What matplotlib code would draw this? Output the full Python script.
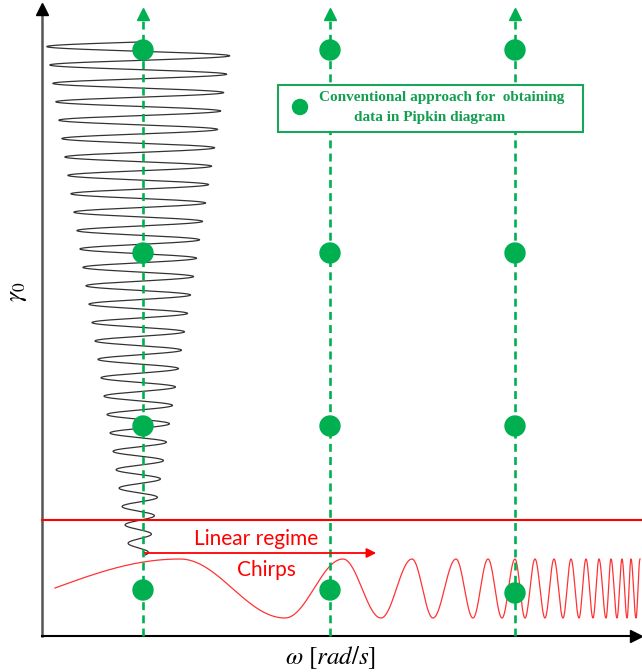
import numpy as np
import matplotlib
matplotlib.use("Agg")
import matplotlib.pyplot as plt
from matplotlib.patches import Ellipse, Rectangle

plt.rcParams['mathtext.fontset'] = 'stix'

GREEN = '#00B050'
RED = '#FF0000'

# frequencies where the conventional amplitude sweeps are run
guide_omega = [143, 330, 515]

# measured points (omega, gamma0) of the conventional approach
dot_omega = [143, 143, 143, 143, 330, 330, 330, 330, 515, 515, 515, 515]
dot_gamma = [50, 253, 426, 590, 50, 253, 426, 590, 50, 253, 426, 593]

# chirp signal: start point then alternating crests / troughs
chirp_x = [55, 180, 285, 343, 381, 412, 433, 456, 473, 488, 502, 515, 525,
           535, 545, 554, 563, 571, 579, 586, 593, 599, 606, 611, 617, 622,
           627, 631, 636, 640]
chirp_y = [588, 559, 618, 559, 618, 559, 618, 559, 618, 559, 618, 559, 618,
           559, 618, 559, 618, 559, 618, 559, 618, 559, 618, 559, 618, 559,
           618, 559, 618, 559]

# amplitude sweep drawn along the gamma axis
sweep_center = 139
sweep_top, sweep_bottom = 42, 555
sweep_halfwidth_top, sweep_halfwidth_bottom = 93, 9
sweep_period = 18.4

linear_limit = 520


def chirp_curve(xs, ys, n=60):
    px, py = [], []
    for i in range(len(xs) - 1):
        t = np.linspace(0, 1, n)
        if i == 0:
            s = np.sin(np.pi / 2 * t)  # starts from the mean level
        else:
            s = (1 - np.cos(np.pi * t)) / 2
        px.append(xs[i] + (xs[i + 1] - xs[i]) * t)
        py.append(ys[i] + (ys[i + 1] - ys[i]) * s)
    return np.concatenate(px), np.concatenate(py)


fig = plt.figure(figsize=(6.42, 6.72), dpi=100)
ax = fig.add_axes([0, 0, 1, 1])
ax.set_xlim(0, 642)
ax.set_ylim(672, 0)
ax.axis('off')

# axes with arrows
ax.plot([42, 42], [636, 12], color='#555555', lw=1.8, zorder=3)
ax.plot(42, 9, marker='^', ms=9, color='black', zorder=4)
ax.plot([42, 634], [636, 636], color='black', lw=1.5, zorder=3)
ax.plot(636, 636, marker='>', ms=9, color='black', zorder=4)

# amplitude sweep
yy = np.linspace(sweep_top, sweep_bottom, 4000)
frac = (yy - sweep_top) / (sweep_bottom - sweep_top)
amp = sweep_halfwidth_top + (sweep_halfwidth_bottom - sweep_halfwidth_top) * frac
xx = sweep_center - amp * np.sin(2 * np.pi * (yy - sweep_top) / sweep_period)
ax.plot(xx, yy, color='#333333', lw=0.9, zorder=2)

# dashed guides
for w in guide_omega:
    ax.plot([w, w], [636, 18], color=GREEN, lw=1.9, ls=(0, (3, 2)), zorder=3)
    ax.plot(w, 14, marker='^', ms=8, color=GREEN, zorder=4)

for w, g in zip(dot_omega, dot_gamma):
    ax.add_patch(Ellipse((w, g), 20, 20, color=GREEN, zorder=5))

# linear regime limit and chirp
ax.plot([42, 642], [linear_limit, linear_limit], color=RED, lw=1.5, zorder=3)
ax.annotate('', xy=(379, 553), xytext=(142, 553),
            arrowprops=dict(arrowstyle='-|>', color=RED, lw=1.3,
                            mutation_scale=14), zorder=4)
ax.text(256, 539, 'Linear regime', color=RED, fontsize=15, family='Lato',
        ha='center', va='center')
ax.text(266, 570, 'Chirps', color=RED, fontsize=15, family='Lato',
        ha='center', va='center')

cx, cy = chirp_curve(chirp_x, chirp_y)
ax.plot(cx, cy, color='#FF3333', lw=0.9, zorder=2)

# legend box
ax.add_patch(Rectangle((278, 85), 305, 47, facecolor='white',
                       edgecolor='#1AA55A', lw=1.5, zorder=6))
ax.add_patch(Ellipse((300, 107), 15, 15, color=GREEN, zorder=7))
ax.text(442, 98, 'Conventional approach for  obtaining', color='#12A050',
        fontsize=11, family='Liberation Serif', weight='bold',
        ha='center', va='center', zorder=7)
ax.text(430, 117, 'data in Pipkin diagram', color='#12A050',
        fontsize=11, family='Liberation Serif', weight='bold',
        ha='center', va='center', zorder=7)

# axis labels
ax.text(17, 292, r'$\gamma_0$', fontsize=18, rotation=90,
        ha='center', va='center')
ax.text(331, 658, r'$\omega\ [rad/s]$', fontsize=18,
        ha='center', va='center')

fig.savefig('out.png', dpi=100)
